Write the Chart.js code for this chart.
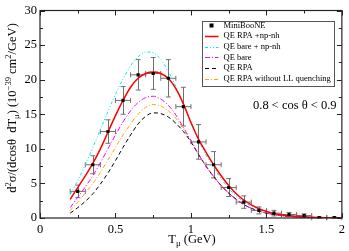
<!DOCTYPE html>
<html>
<head>
<meta charset="utf-8">
<script src="https://cdn.jsdelivr.net/npm/chart.js@4/dist/chart.umd.min.js"></script>
<style>
html,body{margin:0;padding:0;background:#fff;}
#wrap{width:349px;height:251px;position:relative;}
</style>
</head>
<body>
<div id="wrap"><canvas id="c" width="349" height="251"></canvas></div>
<script>
// ---- Data ----
const T_BINS = [0.25,0.35,0.45,0.55,0.65,0.75,0.85,0.95,1.05,1.15,1.25,1.35,1.45,1.55,1.65,1.75,1.85,1.95];
const MB_VALUES = [3.85,7.7,12.5,17.0,20.7,20.9,20.2,16.1,11.0,7.7,4.4,2.3,1.1,0.7,0.5,0.35,0.05,0.05];
const MB_ERRORS = [0.9,1.3,1.7,2.0,2.2,2.3,2.7,2.8,2.5,1.9,1.3,0.9,0.5,0.4,0.3,0.25,0.1,0.1];
const BIN_HALF_WIDTH = 0.05;

const T_MODEL = [0.2,0.25,0.3,0.35,0.4,0.45,0.5,0.55,0.6,0.65,0.7,0.75,0.8,0.85,0.9,0.95,1.0,1.05,1.1,1.15,1.2,1.25,1.3,1.35,1.4,1.45,1.5,1.6,1.7,1.8,1.9,2.0];
const QE_RPA_NPNH = [2.7,4.4,6.1,7.9,10.0,12.4,14.8,17.0,18.9,20.2,20.9,21.1,20.9,20.2,18.7,16.5,13.8,11.4,9.5,7.7,6.1,4.7,3.5,2.6,1.9,1.35,0.95,0.45,0.25,0.12,0.05,0.02];
const QE_BARE_NPNH = [3.4,5.4,7.7,10.2,12.8,15.4,17.9,20.1,22.0,23.3,24.0,23.9,22.9,21.2,19.0,16.5,13.9,11.3,9.1,7.3,5.7,4.3,3.2,2.35,1.7,1.2,0.85,0.42,0.2,0.1,0.04,0.01];
const QE_BARE = [1.5,3.0,4.5,6.1,8.0,10.0,12.0,13.9,15.5,16.7,17.4,17.6,17.2,16.3,14.9,13.1,11.2,9.2,7.5,6.0,4.7,3.6,2.7,1.95,1.4,1.0,0.7,0.33,0.16,0.07,0.03,0.01];
const QE_RPA = [0.7,1.5,2.4,3.5,4.9,6.5,8.3,10.2,12.0,13.6,14.7,15.2,15.1,14.6,13.7,12.5,11.0,9.2,7.5,6.0,4.7,3.6,2.7,1.95,1.4,1.0,0.7,0.33,0.16,0.07,0.03,0.01];
const QE_RPA_NOLL = [1.1,2.3,3.6,5.0,6.6,8.4,10.2,12.0,13.6,15.0,16.0,16.4,16.2,15.5,14.4,12.9,11.1,9.2,7.5,6.0,4.7,3.6,2.7,1.95,1.4,1.0,0.7,0.33,0.16,0.07,0.03,0.01];

const X_TICKS = [0,0.5,1,1.5,2];
const X_TICK_LABELS = ["0","0.5","1","1.5","2"];
const Y_TICKS = [0,5,10,15,20,25,30];
const LEGEND_LABELS = ["MiniBooNE","QE RPA +np-nh","QE bare + np-nh","QE bare","QE RPA","QE RPA without LL quenching"];
const ANNOTATION = "0.8 < cos \u03b8 < 0.9";

const FONT = '"Liberation Serif","Times New Roman",serif';

function pts(xs, ys){ return xs.map((x,i)=>({x:x, y:ys[i]})); }

function lineDs(label, ys, color, width, dash){
  return {type:'line', label:label, data:pts(T_MODEL, ys), borderColor:color, backgroundColor:color,
    borderWidth:width, borderDash:dash, pointRadius:0, cubicInterpolationMode:'monotone', fill:false};
}

const datasets = [
  {type:'scatter', label:LEGEND_LABELS[0], data:pts(T_BINS, MB_VALUES), pointStyle:'rect', pointRadius:2.2,
   backgroundColor:'#000', borderColor:'#000', borderWidth:0, showLine:false, order:0},
  lineDs(LEGEND_LABELS[1], QE_RPA_NPNH, '#ff0000', 1.5, []),
  lineDs(LEGEND_LABELS[2], QE_BARE_NPNH, '#00e8f0', 1, [3,2,1,2,1,2]),
  lineDs(LEGEND_LABELS[3], QE_BARE, '#ff00ff', 1, [5,2,1,2]),
  lineDs(LEGEND_LABELS[4], QE_RPA, '#000000', 1, [4,3]),
  lineDs(LEGEND_LABELS[5], QE_RPA_NOLL, '#ffa500', 1, [4,2,1,2]),
];

function drawRich(ctx, segs, x, y, align){
  let total = 0;
  segs.forEach(s=>{ ctx.font = s.size+'px '+FONT; total += ctx.measureText(s.t).width; });
  let cx = align==='center' ? x - total/2 : x;
  ctx.textBaseline = 'alphabetic';
  ctx.textAlign = 'left';
  segs.forEach(s=>{ ctx.font = s.size+'px '+FONT; ctx.fillText(s.t, cx, y + (s.dy||0)); cx += ctx.measureText(s.t).width; });
}

const decorPlugin = {
  id:'decor',
  beforeDatasetsDraw(chart){
    const ctx = chart.ctx, xs = chart.scales.x, ys = chart.scales.y;
    ctx.save();
    ctx.strokeStyle = '#707070';
    ctx.lineWidth = 1;
    T_BINS.forEach((t,i)=>{
      const px = xs.getPixelForValue(t), py = ys.getPixelForValue(MB_VALUES[i]);
      const x0 = xs.getPixelForValue(t-BIN_HALF_WIDTH), x1 = xs.getPixelForValue(t+BIN_HALF_WIDTH);
      const y0 = ys.getPixelForValue(MB_VALUES[i]-MB_ERRORS[i]), y1 = ys.getPixelForValue(MB_VALUES[i]+MB_ERRORS[i]);
      const cap = 2.5;
      ctx.beginPath();
      ctx.moveTo(x0, py); ctx.lineTo(x1, py);
      ctx.moveTo(x0, py-cap); ctx.lineTo(x0, py+cap);
      ctx.moveTo(x1, py-cap); ctx.lineTo(x1, py+cap);
      ctx.moveTo(Math.round(px)+0.5, y0); ctx.lineTo(Math.round(px)+0.5, y1);
      ctx.moveTo(px-cap, y0); ctx.lineTo(px+cap, y0);
      ctx.moveTo(px-cap, y1); ctx.lineTo(px+cap, y1);
      ctx.stroke();
    });
    ctx.restore();
  },
  afterDraw(chart){
    const ctx = chart.ctx, xs = chart.scales.x, ys = chart.scales.y, a = chart.chartArea;
    ctx.save();
    ctx.strokeStyle = '#222';
    ctx.lineWidth = 1.2;
    ctx.strokeRect(a.left, a.top, a.right-a.left, a.bottom-a.top);
    ctx.lineWidth = 1;
    ctx.beginPath();
    for (let v=0; v<=2.0001; v+=0.25){
      const p = Math.round(xs.getPixelForValue(v))+0.5;
      const major = Math.abs(v*2 - Math.round(v*2)) < 1e-6;
      const L = major ? 5 : 3;
      ctx.moveTo(p, a.bottom); ctx.lineTo(p, a.bottom-L);
      ctx.moveTo(p, a.top); ctx.lineTo(p, a.top+L);
    }
    for (let v=0; v<=30.0001; v+=2.5){
      const p = Math.round(ys.getPixelForValue(v))+0.5;
      const major = Math.abs(v/5 - Math.round(v/5)) < 1e-6;
      const L = major ? 5 : 3;
      ctx.moveTo(a.left, p); ctx.lineTo(a.left+L, p);
      ctx.moveTo(a.right, p); ctx.lineTo(a.right-L, p);
    }
    ctx.stroke();

    ctx.fillStyle = '#000';
    drawRich(ctx, [{t:'T',size:12.5},{t:'\u03bc',size:9,dy:3},{t:' (GeV)',size:12.5}], 192, 243, 'center');
    ctx.save();
    ctx.translate(16, 108);
    ctx.rotate(-Math.PI/2);
    drawRich(ctx, [
      {t:'d',size:12.5},{t:'2',size:8.5,dy:-5},{t:'\u03c3/(dcos\u03b8  dT',size:12.5},{t:'\u03bc',size:8.5,dy:3},
      {t:') (10',size:12.5},{t:'\u221239',size:8.5,dy:-5},{t:' cm',size:12.5},{t:'2',size:8.5,dy:-5},{t:'/GeV)',size:12.5}
    ], 0, 0, 'center');
    ctx.restore();

    ctx.font = '12.5px '+FONT;
    ctx.textAlign = 'left'; ctx.textBaseline = 'middle';
    ctx.fillText(ANNOTATION, 253, 106);

    const lx0 = 202, ly0 = 21, lx1 = 334, ly1 = 86;
    ctx.fillStyle = '#fff';
    ctx.fillRect(lx0, ly0, lx1-lx0, ly1-ly0);
    ctx.strokeStyle = '#555';
    ctx.lineWidth = 1;
    ctx.strokeRect(lx0+0.5, ly0+0.5, lx1-lx0, ly1-ly0);
    const rowY = [25.5,36.2,46.8,57.4,68.2,79];
    chart.data.datasets.forEach((ds,i)=>{
      const y = rowY[i];
      ctx.save();
      if (i===0){
        ctx.fillStyle = '#000';
        ctx.fillRect(209.5, y-2, 4, 4);
      } else {
        ctx.strokeStyle = ds.borderColor;
        ctx.lineWidth = ds.borderWidth;
        ctx.setLineDash(ds.borderDash);
        ctx.beginPath();
        ctx.moveTo(205, Math.round(y)+0.5); ctx.lineTo(218.5, Math.round(y)+0.5);
        ctx.stroke();
      }
      ctx.restore();
      ctx.fillStyle = '#000';
      ctx.font = '8.5px '+FONT;
      ctx.textAlign = 'left'; ctx.textBaseline = 'middle';
      ctx.fillText(ds.label, 223.5, y);
    });
    ctx.restore();
  }
};

new Chart(document.getElementById('c'), {
  data:{datasets:datasets},
  options:{
    responsive:false, animation:false,
    layout:{padding:{left:0, top:5, right:4, bottom:0}},
    plugins:{legend:{display:false}, tooltip:{enabled:false}},
    scales:{
      x:{type:'linear', min:0, max:2,
        afterFit(s){ s.height = 33; },
        afterBuildTicks(s){ s.ticks = X_TICKS.map(v=>({value:v})); },
        grid:{display:false, drawTicks:false}, border:{display:false},
        ticks:{color:'#000', font:{family:FONT, size:12.5}, padding:4, maxRotation:0,
          callback:(v)=>{ const i = X_TICKS.indexOf(v); return i>=0 ? X_TICK_LABELS[i] : ''; }}},
      y:{type:'linear', min:0, max:30,
        afterFit(s){ s.width = 40; },
        afterBuildTicks(s){ s.ticks = Y_TICKS.map(v=>({value:v})); },
        grid:{display:false, drawTicks:false}, border:{display:false},
        ticks:{color:'#000', font:{family:FONT, size:12.5}, padding:3}}
    }
  },
  plugins:[decorPlugin]
});
</script>
</body>
</html>
